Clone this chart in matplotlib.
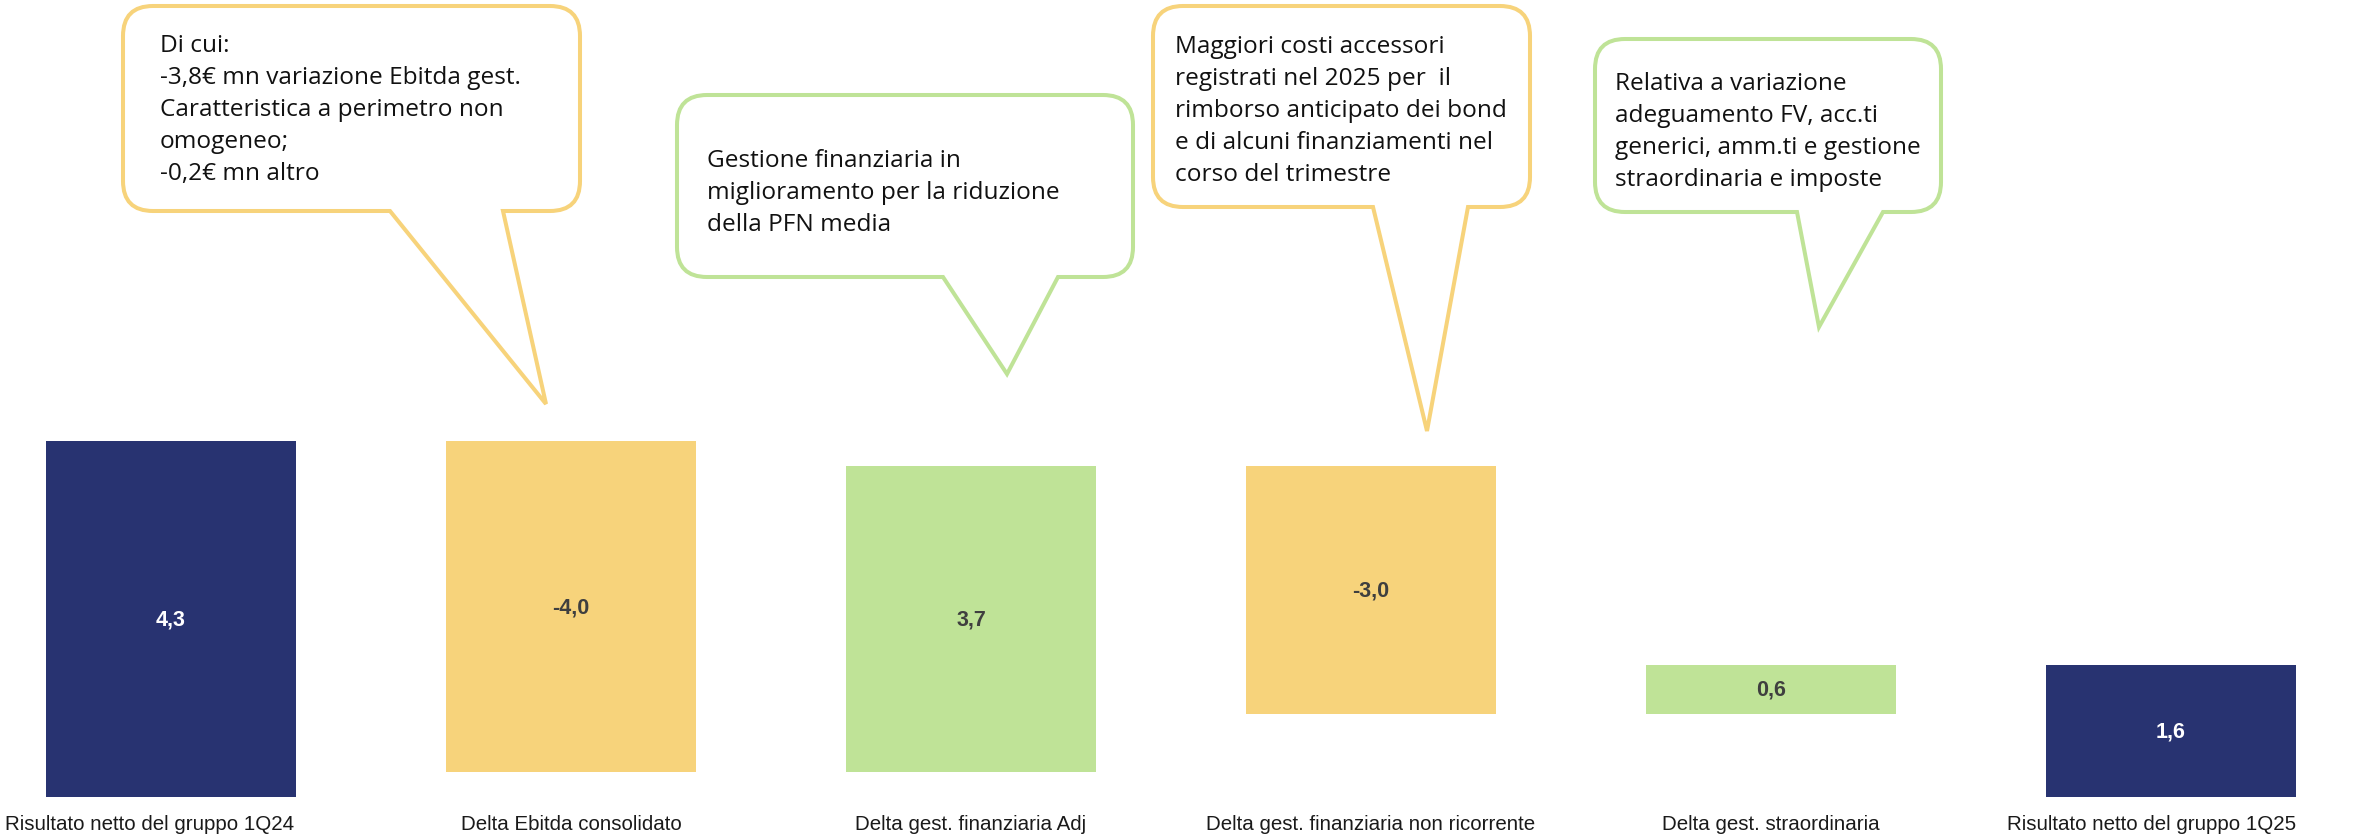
import numpy as np
import matplotlib.pyplot as plt
from matplotlib.path import Path
from matplotlib.patches import PathPatch

# dati del grafico (milioni di euro)
categories = ["Risultato netto del gruppo 1Q24", "Delta Ebitda consolidato",
              "Delta gest. finanziaria Adj", "Delta gest. finanziaria non ricorrente",
              "Delta gest. straordinaria", "Risultato netto del gruppo 1Q25"]
values = [4.3, -4.0, 3.7, -3.0, 0.6, 1.6]
is_total = [True, False, False, False, False, True]

notes = [
    ["Di cui:", "-3,8€ mn variazione Ebitda gest.", "Caratteristica a perimetro non",
     "omogeneo;", "-0,2€ mn altro"],
    ["Gestione finanziaria in", "miglioramento per la riduzione", "della PFN media"],
    ["Maggiori costi accessori", "registrati nel 2025 per  il", "rimborso anticipato dei bond",
     "e di alcuni finanziamenti nel", "corso del trimestre"],
    ["Relativa a variazione", "adeguamento FV, acc.ti", "generici, amm.ti e gestione",
     "straordinaria e imposte"],
]

NAVY = "#283371"
YELLOW = "#F7D37B"
GREEN = "#BFE397"

W, H = 2356, 837
fig = plt.figure(figsize=(W / 100, H / 100), dpi=100)
ax = fig.add_axes([0, 0, 1, 1])
ax.axis("off")
# scala: 400 px tra le barre, ~82.8 px per unita', base a 798 px dall'alto
ax.set_xlim(-171 / 400, (W - 171) / 400)
ax.set_ylim(-(H - 798) / 82.8, 798 / 82.8)

lab_font = ["Liberation Sans", "DejaVu Sans"]
bw = 0.624

x = np.arange(len(values))
running = 0.0
for i, (v, tot) in enumerate(zip(values, is_total)):
    if tot:
        bottom, height, color = 0, v, NAVY
        running = v
    else:
        bottom = running + min(v, 0)
        height = abs(v)
        color = GREEN if v > 0 else YELLOW
        running += v
    ax.bar(x[i], height, bottom=bottom, width=bw, color=color, linewidth=0)
    txt_color = "white" if tot else "#3F3F3F"
    ax.text(x[i], bottom + height / 2, f"{v:.1f}".replace(".", ","), ha="center",
            va="center", color=txt_color, fontsize=15.5, fontweight="bold", family=lab_font)
    # le etichette agli estremi restano dentro la figura
    if i == 0:
        lx, ha = x[i] - 0.415, "left"
    elif i == len(values) - 1:
        lx, ha = x[i] + bw / 2, "right"
    else:
        lx, ha = x[i], "center"
    ax.text(lx, -0.32, categories[i], ha=ha, va="center", fontsize=14.8,
            color="#1A1A1A", family=lab_font)

# fumetti in coordinate pixel
ov = fig.add_axes([0, 0, 1, 1])
ov.set_xlim(0, W)
ov.set_ylim(H, 0)
ov.axis("off")


def callout(x0, y0, x1, y1, ta, tb, tip, color, r=30):
    verts = [(x0 + r, y0), (x1 - r, y0), (x1, y0), (x1, y0 + r), (x1, y1 - r),
             (x1, y1), (x1 - r, y1), (tb, y1), tip, (ta, y1), (x0 + r, y1),
             (x0, y1), (x0, y1 - r), (x0, y0 + r), (x0, y0), (x0 + r, y0), (x0 + r, y0)]
    codes = [Path.MOVETO, Path.LINETO, Path.CURVE3, Path.CURVE3, Path.LINETO,
             Path.CURVE3, Path.CURVE3, Path.LINETO, Path.LINETO, Path.LINETO, Path.LINETO,
             Path.CURVE3, Path.CURVE3, Path.LINETO, Path.CURVE3, Path.CURVE3, Path.CLOSEPOLY]
    ov.add_patch(PathPatch(Path(verts, codes), facecolor="white", edgecolor=color,
                           linewidth=2.9, joinstyle="miter"))


boxes = [
    dict(x0=123, y0=7, x1=580, y1=212, ta=390, tb=503, tip=(546, 405), color=YELLOW,
         tx=160, ty=52),
    dict(x0=677, y0=96, x1=1133, y1=278, ta=943, tb=1058, tip=(1007, 375), color=GREEN,
         tx=707, ty=167),
    dict(x0=1153, y0=7, x1=1530, y1=208, ta=1373, tb=1468, tip=(1427, 432), color=YELLOW,
         tx=1175, ty=53),
    dict(x0=1595, y0=40, x1=1941, y1=213, ta=1797, tb=1883, tip=(1819, 328), color=GREEN,
         tx=1615, ty=90),
]

for b, lines in zip(boxes, notes):
    callout(b["x0"], b["y0"], b["x1"], b["y1"], b["ta"], b["tb"], b["tip"], b["color"])
    for k, line in enumerate(lines):
        ov.text(b["tx"], b["ty"] + 32 * k, line, ha="left", va="baseline", fontsize=17.6,
                color="#111111", family=["Open Sans", "DejaVu Sans"])

plt.savefig("out.png", dpi=100)
